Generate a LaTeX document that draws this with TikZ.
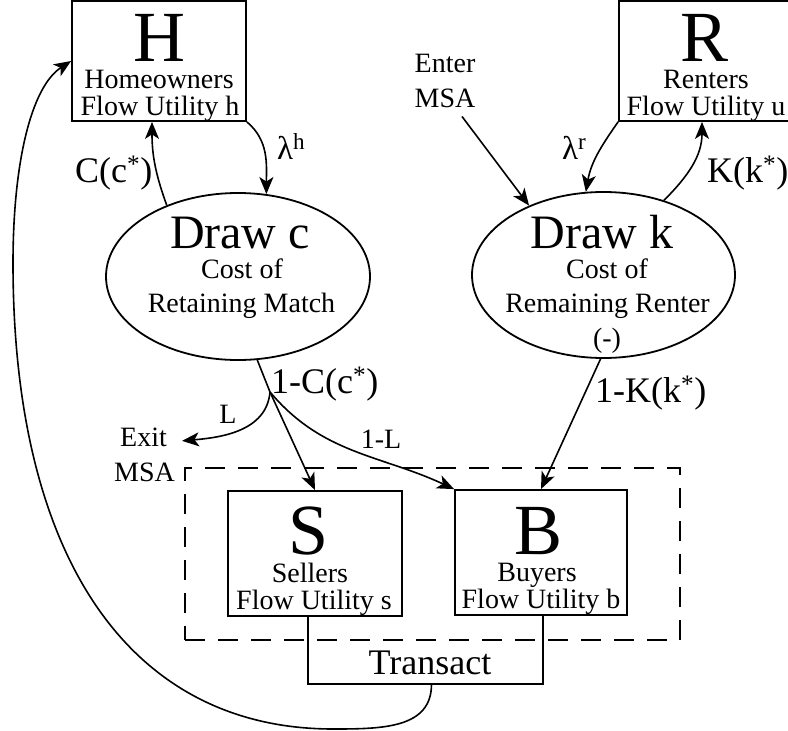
\documentclass[tikz,border=0pt]{standalone}
\usepackage{fontspec}
\setmainfont{Liberation Serif}
\usepackage{tikz}
\usetikzlibrary{arrows.meta, shapes.geometric}

\newcommand{\fsz}[1]{\fontsize{#1}{#1}\selectfont}

\begin{document}
\begin{tikzpicture}[x=1pt, y=-1pt,
  box/.style={rectangle, draw=black, line width=1.8pt, inner sep=0pt},
  oval/.style={ellipse, draw=black, line width=1.8pt, inner sep=0pt},
  msabox/.style={rectangle, draw=black, line width=1.8pt,
                 dash pattern=on 20pt off 13pt, inner sep=0pt},
  big/.style={anchor=base, inner sep=0pt, font=\fsz{72}},
  sub/.style={anchor=base, inner sep=0pt, font=\fsz{28}},
  head/.style={anchor=base, inner sep=0pt, font=\fsz{48}},
  lbl/.style={anchor=base west, inner sep=0pt, font=\fsz{36}},
  lam/.style={anchor=base west, inner sep=0pt, font=\fsz{33}},
  arr/.style={-{Stealth[length=17pt, width=14pt, inset=4.5pt]}, line width=1.6pt},
  ln/.style={line width=1.6pt}
]
\useasboundingbox (0,0) rectangle (788,731);
\clip (0,0) rectangle (788,731);

\node[msabox, minimum width=495pt, minimum height=172pt] (market) at (432.5,554) {};

\node[box, minimum width=174pt, minimum height=120pt] (hbox) at (159,61) {};
\node[big] (hL) at (159,61) {H};
\node[sub] (hname) at (159,88) {Homeowners};
\node[sub] (hflow) at (160,115) {Flow Utility h};

\node[box, minimum width=174pt, minimum height=120pt] (rbox) at (706,61) {};
\node[big] (rL) at (705,61) {R};
\node[sub] (rname) at (706,88) {Renters};
\node[sub] (rflow) at (706,115) {Flow Utility u};

\node[oval, minimum width=264pt, minimum height=167pt] (drawc) at (238,276.5) {};
\node[head] (cL) at (240,248) {Draw c};
\node[sub] (cname) at (242,278) {Cost of};
\node[sub] (cdesc) at (241.5,312) {Retaining Match};

\node[oval, minimum width=263pt, minimum height=166pt] (drawk) at (603.5,275) {};
\node[head] (kL) at (602,248) {Draw k};
\node[sub] (kname) at (607,278) {Cost of};
\node[sub] (kdesc) at (607.5,312) {Remaining Renter};
\node[sub] (kneg) at (607,347) {(-)};

\node[box, minimum width=174pt, minimum height=125pt] (sbox) at (315,553.5) {};
\node[big] (sL) at (309,554) {S};
\node[sub] (sname) at (310,582) {Sellers};
\node[sub] (sflow) at (314,609) {Flow Utility s};

\node[box, minimum width=172pt, minimum height=125pt] (bbox) at (541,552.5) {};
\node[big] (bL) at (539,554) {B};
\node[sub] (bname) at (537,581) {Buyers};
\node[sub] (bflow) at (541,608) {Flow Utility b};

\node[minimum width=235pt, minimum height=68pt, inner sep=0pt] (trans) at (425.5,650) {};
\node[anchor=base, inner sep=0pt, font=\fsz{36}] (transtxt) at (430,674) {Transact};
\draw[line width=1.8pt] (trans.north west) |- (trans.south east) -- (trans.north east);

\node[sub] (enter) at (445,72) {Enter};
\node[sub] (entermsa) at (445,107) {MSA};
\node[sub] (exit) at (143.5,446) {Exit};
\node[sub] (exitmsa) at (144.5,481) {MSA};

\coordinate (split) at (270,392);

\draw[arr] (hbox.south east) to[out=-40, in=90] (drawc.71);
\draw[arr] (drawc.135) to[out=110, in=-90] ([xshift=-7pt]hbox.south);
\draw[arr] (rbox.south west) to[out=-125, in=80] (drawk.102);
\draw[arr] (drawk.51) to[out=45, in=-90] ([xshift=-4pt]rbox.south);
\draw[arr] ([shift={(17,9)}]entermsa.south) -- (drawk.137);

\draw[ln] (drawc.-77) -- (split);
\draw[arr] (split) to[out=-95, in=5] ([shift={(15,4)}]exit.east);
\draw[arr] (split) -- (sbox.north);
\draw[arr] (split) to[out=-50, in=155] (bbox.north west);
\draw[arr] (drawk.-92) -- (bbox.north);

\draw[arr] ([xshift=6pt]trans.south) .. controls +(0,44) and +(50,0) .. (333,729)
  .. controls +(-200,0) and +(0,300) .. (13,263)
  .. controls +(0,-100) and +(-40,26) .. (hbox.west);

\node[lbl] (lc) at (75,182) {C(c\textsuperscript{*})};
\node[lam] (lh) at (277,159) {λ\textsuperscript{h}};
\node[lam] (lr) at (562,159) {λ\textsuperscript{r}};
\node[lbl] (lk) at (707,182) {K(k\textsuperscript{*})};
\node[lbl] (lc1) at (271,393) {1-C(c\textsuperscript{*})};
\node[lbl] (lk1) at (595,402) {1-K(k\textsuperscript{*})};
\node[sub] (ll) at (228,423) {L};
\node[sub] (ll1) at (381,448) {1-L};

\end{tikzpicture}
\end{document}
